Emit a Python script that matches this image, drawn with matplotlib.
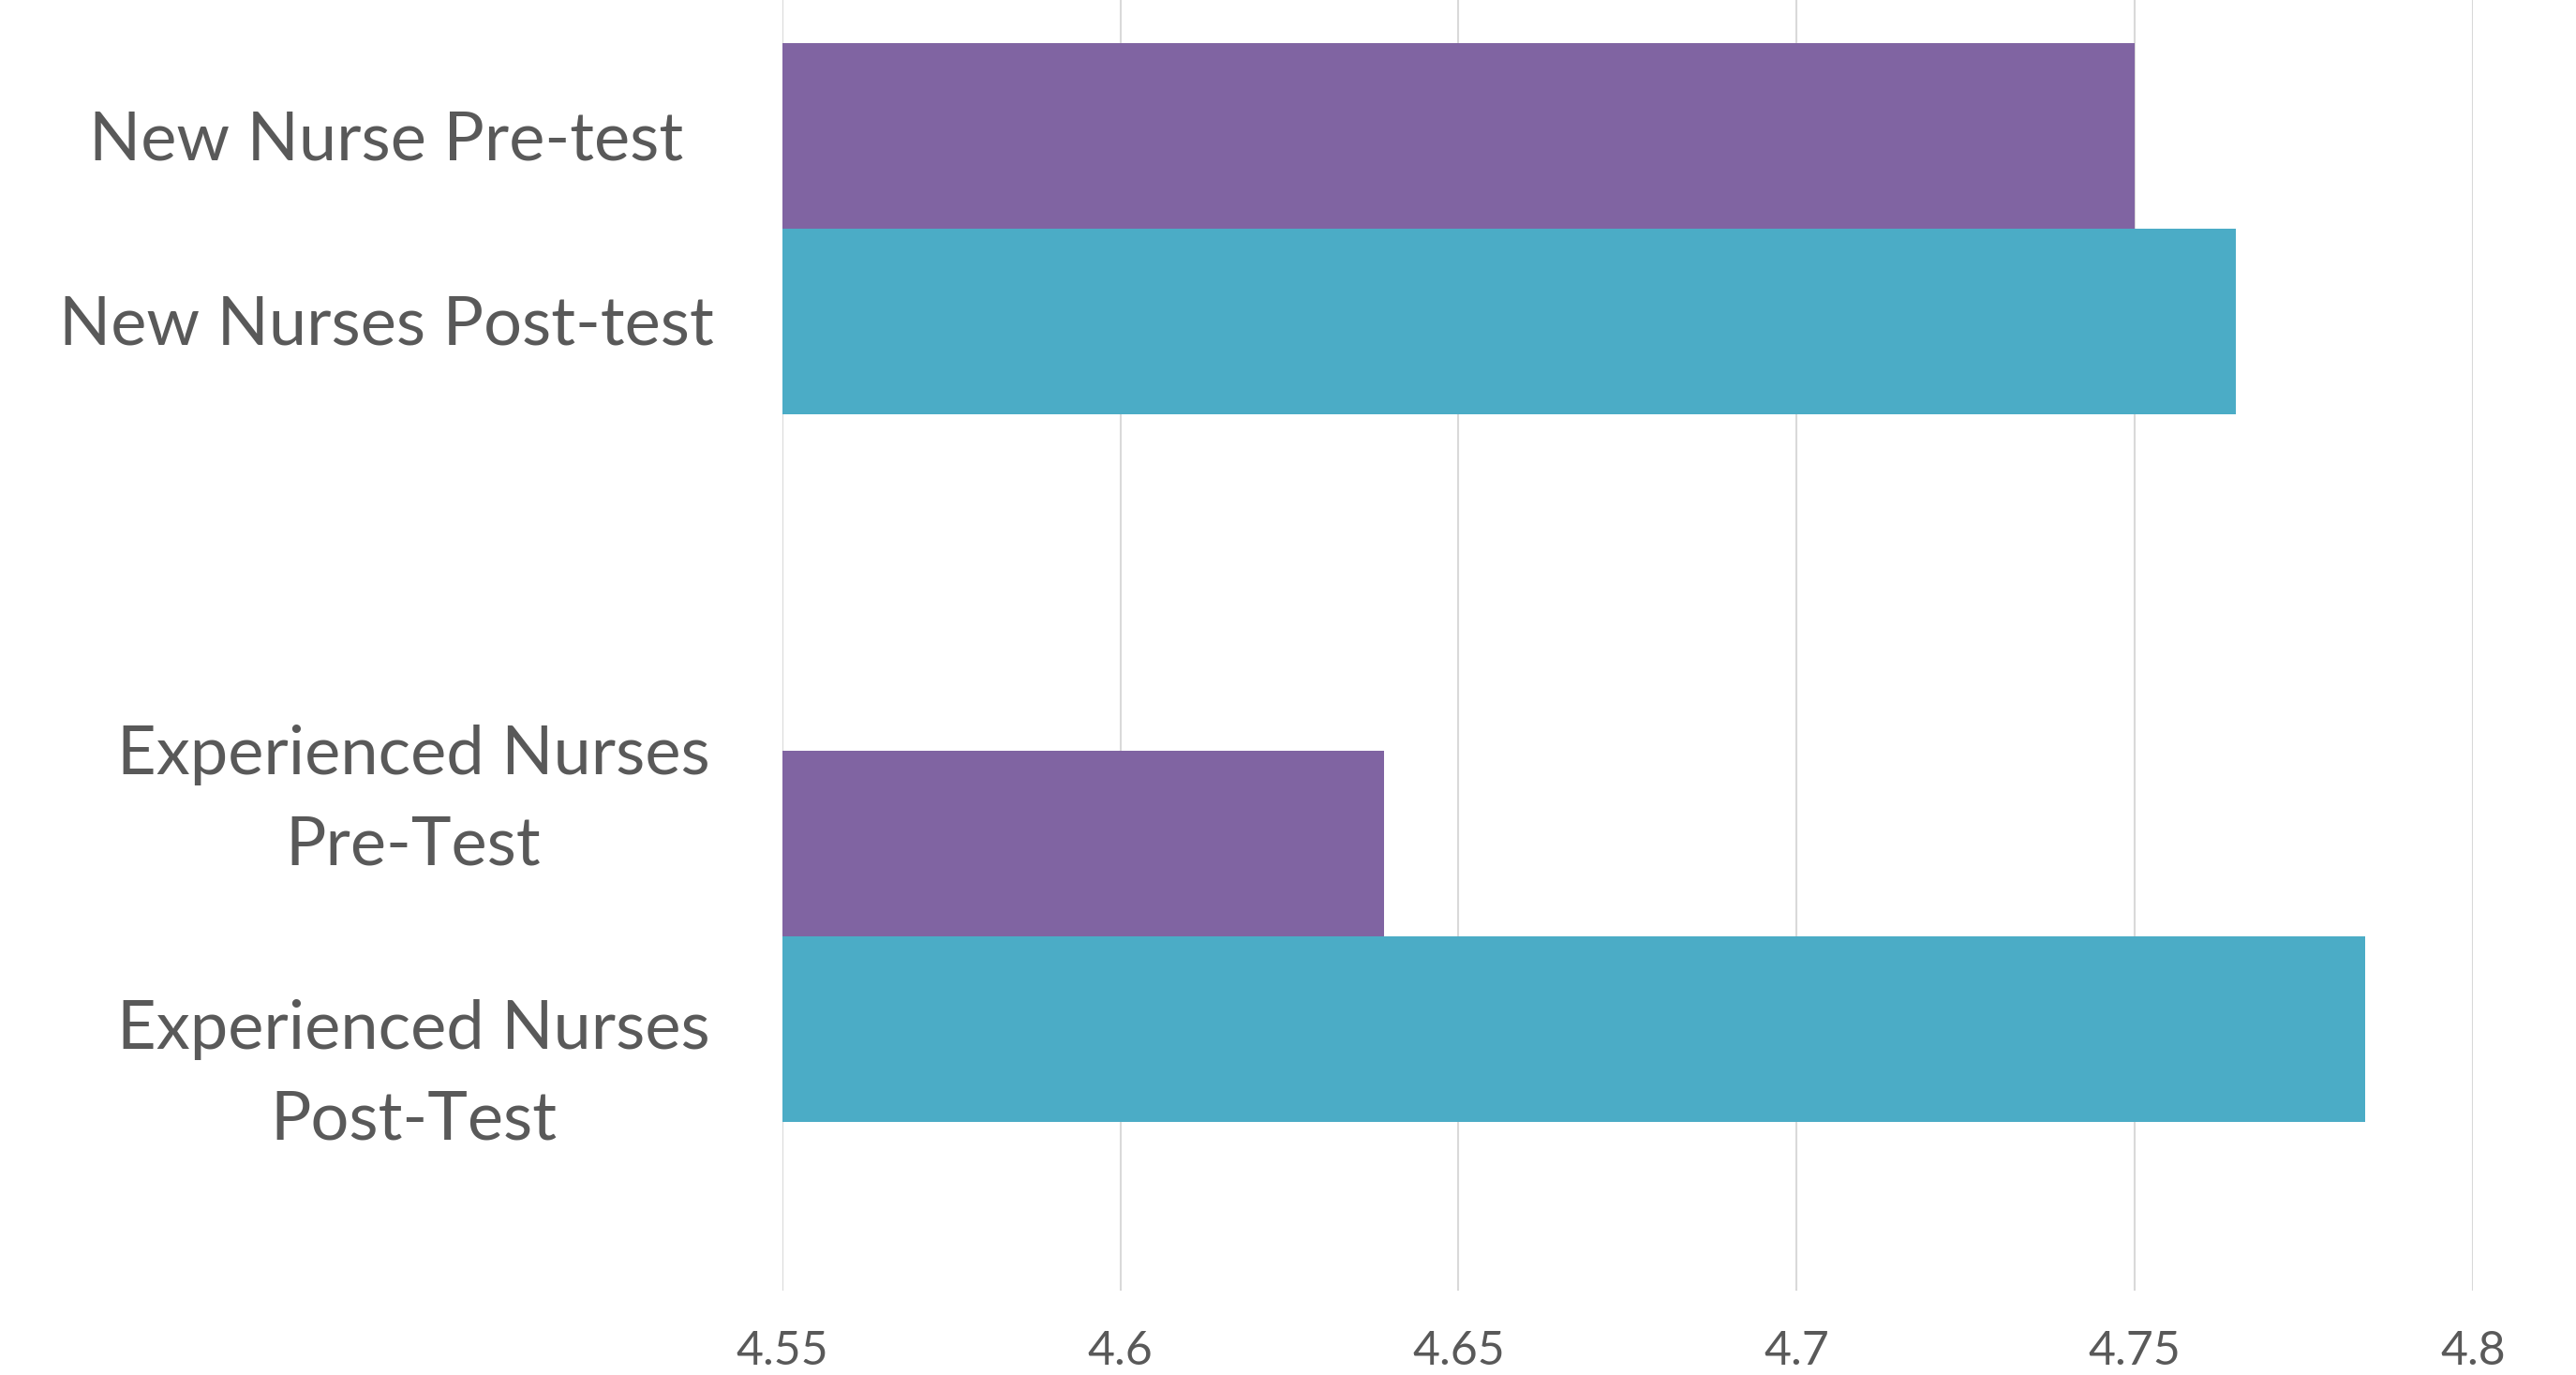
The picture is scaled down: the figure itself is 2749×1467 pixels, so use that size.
import matplotlib
matplotlib.use("Agg")
import matplotlib.pyplot as plt
import numpy as np

# ---- data ----
groups = ["New Nurses", "Experienced Nurses"]
pre_values = [4.75, 4.639]
post_values = [4.765, 4.784]
bar_labels = [
    "New Nurse Pre-test",
    "New Nurses Post-test",
    "Experienced Nurses\nPre-Test",
    "Experienced Nurses\nPost-Test",
]
x_ticks = [4.55, 4.6, 4.65, 4.7, 4.75, 4.8]
x_tick_labels = ["4.55", "4.6", "4.65", "4.7", "4.75", "4.8"]

W, H = 2749, 1467
DPI = 100
fig = plt.figure(figsize=(W / DPI, H / DPI), dpi=DPI)
fig.patch.set_facecolor("white")

FONT = ["Lato", "DejaVu Sans"]
TXT = "#595959"
PURPLE = "#8064A2"
CYAN = "#4BACC6"

# axes in pixel layout
left_px, right_px = 834.7, 2639.0
top_px, bottom_px = 0.0, 1377.0
ax = fig.add_axes([left_px / W, 1 - bottom_px / H,
                   (right_px - left_px) / W, (bottom_px - top_px) / H])

unit = 755.0  # px per category
bar_h = 198.0 / unit
pos = np.arange(len(groups))
ax.barh(pos - bar_h / 2, np.array(pre_values) - x_ticks[0], left=x_ticks[0],
        height=bar_h, color=PURPLE, zorder=3, linewidth=0)
ax.barh(pos + bar_h / 2, np.array(post_values) - x_ticks[0], left=x_ticks[0],
        height=bar_h, color=CYAN, zorder=3, linewidth=0)

ax.set_xlim(x_ticks[0], x_ticks[-1])
ax.set_ylim(1 + (bottom_px - 999.5) / unit, 0 - 244.0 / unit)

ax.set_xticks(x_ticks)
ax.set_xticklabels(x_tick_labels, fontfamily=FONT, fontsize=36, color=TXT)
ax.tick_params(axis="x", length=0, pad=30)
ax.set_yticks([])
ax.grid(axis="x", color="#d9d9d9", linewidth=1.5, zorder=0)
for s in ax.spines.values():
    s.set_visible(False)
ax.set_axisbelow(True)

# category labels
label_pos = [(412, 150), (412, 347), (441, 854), (441, 1147)]
for txt, (px, py) in zip(bar_labels, label_pos):
    fig.text(px / W, 1 - py / H, txt, ha="center", va="center",
             multialignment="center", fontfamily=FONT, fontsize=52,
             color=TXT, linespacing=1.6)

fig.savefig("out.png", dpi=DPI, facecolor="white")
